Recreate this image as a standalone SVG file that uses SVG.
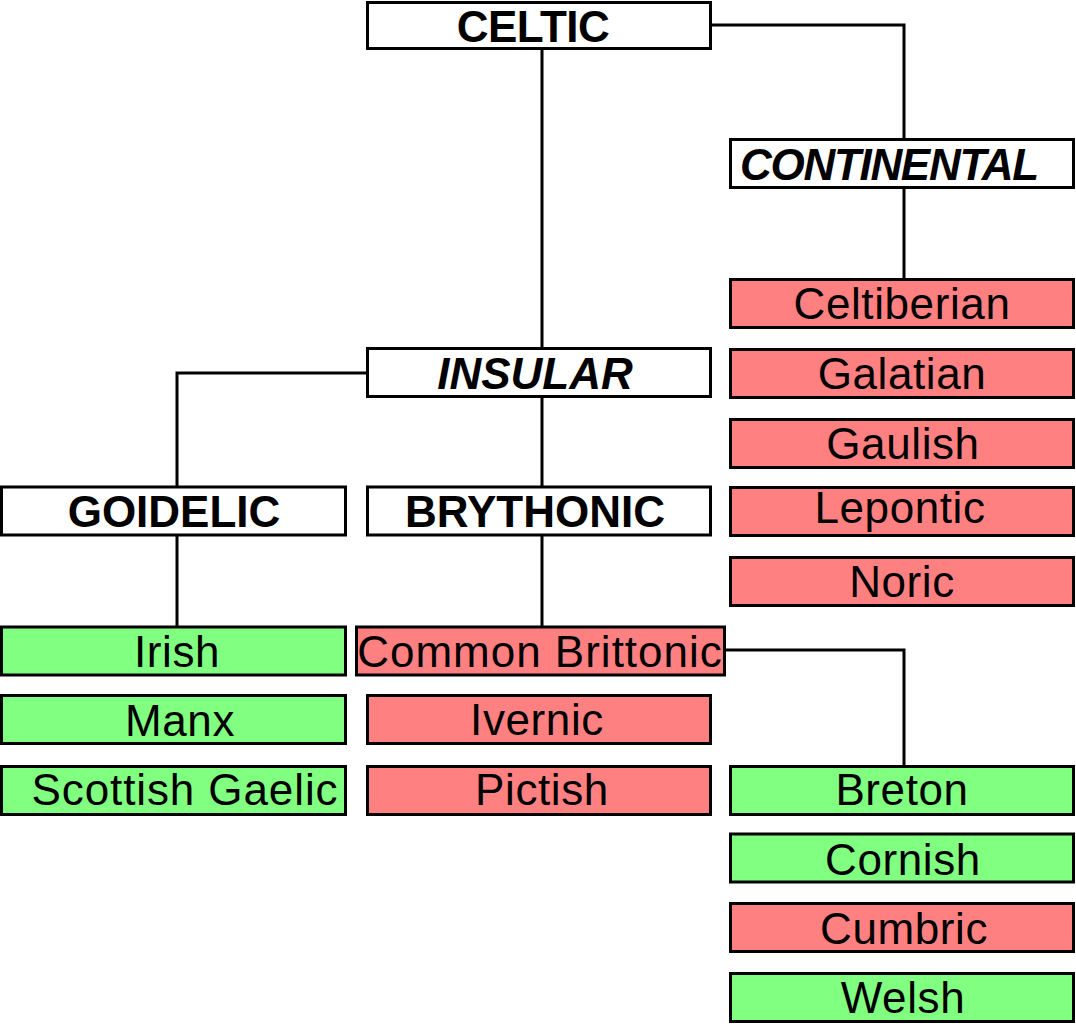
<svg xmlns="http://www.w3.org/2000/svg" width="1076" height="1024" viewBox="0 0 1076 1024">
<style>
rect{stroke:#000;stroke-width:3}
.h{fill:#fff}
.g{fill:#80ff80}
.r{fill:#ff8080}
text{font-family:"Liberation Sans",Arial,sans-serif;font-size:44px;fill:#000;text-anchor:middle;letter-spacing:0.6px}
.b{font-weight:bold;letter-spacing:0}
.i{font-style:italic;font-weight:bold;letter-spacing:0}
.c{fill:none;stroke:#000;stroke-width:3}
</style>
<rect width="1076" height="1024" fill="#fff" style="stroke:none"/>
<g id="connectors">
<polyline class="c" points="711,25 904,25 904,139"/>
<line class="c" x1="542" y1="49" x2="542" y2="348"/>
<line class="c" x1="904" y1="187" x2="904" y2="279"/>
<polyline class="c" points="367,373 177,373 177,486"/>
<line class="c" x1="542" y1="397" x2="542" y2="486"/>
<line class="c" x1="177" y1="535" x2="177" y2="626"/>
<line class="c" x1="542" y1="535" x2="542" y2="626"/>
<polyline class="c" points="725,650 904,650 904,765"/>
</g>
<g id="celtic"><rect class="h" x="367.5" y="2.5" width="343" height="46"/><text class="b" x="533" y="42" style="letter-spacing:-0.5px">CELTIC</text></g>
<g id="continental"><rect class="h" x="730.5" y="139.5" width="343" height="48"/><text class="i" x="740" y="180" style="text-anchor:start;letter-spacing:-1.3px">CONTINENTAL</text></g>
<g id="celtiberian"><rect class="r" x="730.5" y="279.5" width="343" height="48"/><text x="902" y="319">Celtiberian</text></g>
<g id="galatian"><rect class="r" x="730.5" y="349.5" width="343" height="48"/><text x="902" y="389">Galatian</text></g>
<g id="gaulish"><rect class="r" x="730.5" y="419.5" width="343" height="48"/><text x="903" y="459">Gaulish</text></g>
<g id="lepontic"><rect class="r" x="730.5" y="487.5" width="343" height="48"/><text x="900" y="523">Lepontic</text></g>
<g id="noric"><rect class="r" x="730.5" y="557.5" width="343" height="48"/><text x="902" y="597">Noric</text></g>
<g id="insular"><rect class="h" x="367.5" y="348.5" width="343" height="48"/><text class="i" x="535" y="389">INSULAR</text></g>
<g id="goidelic"><rect class="h" x="1.5" y="487" width="344" height="48"/><text class="b" x="174" y="527">GOIDELIC</text></g>
<g id="brythonic"><rect class="h" x="367.5" y="487" width="343" height="48"/><text class="b" x="535" y="527">BRYTHONIC</text></g>
<g id="irish"><rect class="g" x="1.5" y="627" width="344" height="48"/><text x="177" y="667">Irish</text></g>
<g id="manx"><rect class="g" x="1.5" y="695.5" width="344" height="48"/><text x="180" y="736">Manx</text></g>
<g id="scottish-gaelic"><rect class="g" x="1.5" y="766.5" width="344" height="48"/><text x="185" y="805" style="letter-spacing:0.9px">Scottish Gaelic</text></g>
<g id="common-brittonic"><rect class="r" x="356.5" y="627" width="368" height="48"/><text x="540" y="667" style="letter-spacing:1px">Common Brittonic</text></g>
<g id="ivernic"><rect class="r" x="367.5" y="695.5" width="343" height="48"/><text x="537" y="735">Ivernic</text></g>
<g id="pictish"><rect class="r" x="367.5" y="766.5" width="343" height="48"/><text x="542" y="805">Pictish</text></g>
<g id="breton"><rect class="g" x="730.5" y="766.5" width="343" height="48"/><text x="902" y="805">Breton</text></g>
<g id="cornish"><rect class="g" x="730.5" y="834" width="343" height="48"/><text x="903" y="875">Cornish</text></g>
<g id="cumbric"><rect class="r" x="730.5" y="903.5" width="343" height="48"/><text x="904" y="944">Cumbric</text></g>
<g id="welsh"><rect class="g" x="730.5" y="973.5" width="343" height="48"/><text x="903" y="1013">Welsh</text></g>
</svg>
